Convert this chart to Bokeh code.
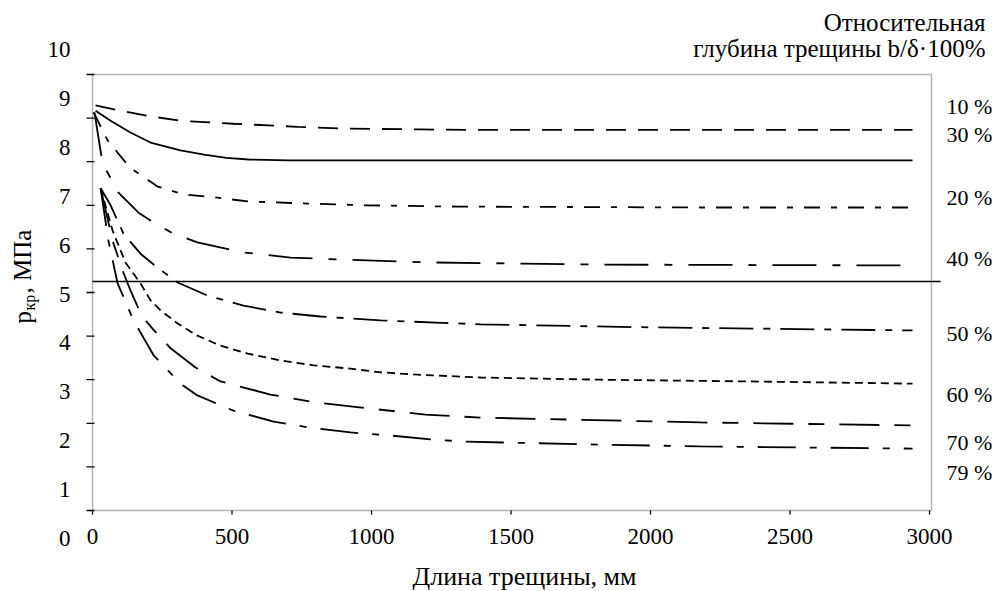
import math
from bokeh.plotting import figure
from bokeh.models import Range1d, Label, BoxAnnotation
from bokeh.core.properties import value
from bokeh.embed import file_html
from bokeh.resources import INLINE

# ---------------- data ----------------
series_names = ["10 %", "30 %", "20 %", "40 %", "50 %", "60 %", "70 %", "79 %"]

x_10 = [11, 100, 208, 315, 505, 735, 900, 1176, 1366, 2000, 2466, 2939]
y_10 = [9.29, 9.17, 9.04, 8.94, 8.87, 8.80, 8.76, 8.74, 8.73, 8.73, 8.73, 8.73]

x_30 = [11, 65, 136, 208, 315, 400, 480, 560, 700, 1500, 2939]
y_30 = [9.17, 8.94, 8.67, 8.44, 8.26, 8.16, 8.09, 8.05, 8.03, 8.03, 8.03]

x_20 = [4, 54, 133, 233, 326, 441, 556, 771, 978, 1312, 2179, 2939]
y_20 = [9.13, 8.49, 7.87, 7.43, 7.25, 7.18, 7.09, 7.04, 7.00, 6.97, 6.95, 6.95]

x_40 = [7, 22, 36, 93, 165, 226, 290, 376, 541, 710, 878, 1211, 1821, 2939]
y_40 = [9.13, 8.53, 7.96, 7.29, 6.83, 6.58, 6.35, 6.15, 5.92, 5.80, 5.76, 5.69, 5.64, 5.62]

x_50 = [29, 65, 111, 172, 233, 305, 412, 541, 674, 817, 1032, 1391, 2000, 2939]
y_50 = [7.39, 7.00, 6.35, 5.89, 5.57, 5.23, 4.93, 4.70, 4.54, 4.45, 4.36, 4.27, 4.20, 4.13]

x_60 = [29, 72, 118, 172, 208, 244, 305, 376, 459, 556, 674, 792, 914, 1032, 1150, 1391, 1821, 2358, 2939]
y_60 = [7.39, 6.42, 5.69, 5.21, 4.82, 4.59, 4.29, 4.01, 3.78, 3.60, 3.44, 3.33, 3.26, 3.17, 3.12, 3.05, 3.00, 2.96, 2.91]

x_70 = [29, 72, 108, 136, 176, 215, 280, 369, 459, 638, 799, 1021, 1193, 1391, 2179, 2939]
y_70 = [7.39, 6.19, 5.50, 5.05, 4.47, 4.17, 3.72, 3.28, 2.96, 2.66, 2.48, 2.32, 2.20, 2.13, 2.02, 1.95]

x_79 = [29, 57, 90, 147, 219, 315, 376, 505, 649, 781, 925, 1068, 1211, 1337, 1821, 2179, 2939]
y_79 = [7.39, 6.19, 5.21, 4.36, 3.56, 2.91, 2.64, 2.29, 2.04, 1.90, 1.79, 1.72, 1.63, 1.58, 1.51, 1.47, 1.42]

critical_level = 5.25
critical_x = [0, 3040]

x_min, x_max = 0, 3007
y_min, y_max = 0, 10
x_ticks = [0, 500, 1000, 1500, 2000, 2500, 3000]
x_tick_labels = ["0", "500", "1000", "1500", "2000", "2500", "3000"]
y_ticks = [0, 1, 2, 3, 4, 5, 6, 7, 8, 9, 10]
y_tick_labels = ["0", "1", "2", "3", "4", "5", "6", "7", "8", "9", "10"]

# ---------------- styles / layout ----------------
dashes = ["20 12", "solid", "16 11 6 11", "44 16 8 16", "34 10 7 10", "8 5", "40 15 16 15", "38 14 7 14"]
FONT = "Liberation Serif"

W, H = 1000, 591
FRAME_L, FRAME_T, FRAME_W, FRAME_H = 92, 74, 839, 436   # box position inside the canvas
sx = FRAME_W / (x_max - x_min)   # px per x unit
sy = FRAME_H / (y_max - y_min)   # px per y unit

def X(cx):   # canvas px -> data x
    return x_min + (cx - FRAME_L) / sx

def Y(cy):   # canvas px (from top) -> data y
    return y_min + (FRAME_T + FRAME_H - cy) / sy

p = figure(width=W, height=H,
           x_range=Range1d(X(0), X(W)), y_range=Range1d(Y(H), Y(0)),
           x_axis_type=None, y_axis_type=None,
           output_backend="svg", toolbar_location=None, min_border=0)
p.grid.visible = False
p.outline_line_color = None
p.background_fill_color = "white"
p.border_fill_color = "white"

# plot box
p.add_layout(BoxAnnotation(left=x_min, right=x_max, bottom=y_min, top=y_max,
                           fill_color=None, fill_alpha=0,
                           line_color="black", line_width=1.5))

# curves
xs = [x_10, x_30, x_20, x_40, x_50, x_60, x_70, x_79]
ys = [y_10, y_30, y_20, y_40, y_50, y_60, y_70, y_79]
for xv, yv, d in zip(xs, ys, dashes):
    p.line(xv, yv, line_color="black", line_width=1.8, line_dash=d)

p.line(critical_x, [critical_level, critical_level], line_color="black", line_width=1.5)

# ticks
p.segment(x0=x_ticks, y0=[y_min] * len(x_ticks), x1=x_ticks,
          y1=[y_min - 4 / sy] * len(x_ticks), line_color="black", line_width=1.3)
p.segment(x0=[x_min - 6 / sx] * len(y_ticks), y0=y_ticks,
          x1=[x_min + 2 / sx] * len(y_ticks), y1=y_ticks, line_color="black", line_width=1.3)

# x tick labels
p.text(x=x_ticks, y=[Y(536)] * len(x_ticks), text=x_tick_labels,
       text_font=value(FONT), text_font_size=value("23px"), text_color="black",
       text_align="center", text_baseline="middle")

# y tick labels (spread wider than the tick marks, as in the source)
p.text(x=[X(70)] * len(y_ticks), y=[Y(538 - 48.9 * i) for i in range(len(y_ticks))],
       text=y_tick_labels,
       text_font=value(FONT), text_font_size=value("23px"), text_color="black",
       text_align="right", text_baseline="middle")

# right-side series labels
right_label_cy = [106, 134, 197, 258, 333, 394, 442, 472]
p.text(x=[X(946)] * len(series_names), y=[Y(c) for c in right_label_cy], text=series_names,
       text_font=value(FONT), text_font_size=value("22px"), text_color="black",
       text_align="left", text_baseline="middle")

# header at top-right
p.add_layout(Label(x=X(985), y=Y(22), text="Относительная",
                   text_font=FONT, text_font_size="25px", text_color="black",
                   text_align="right", text_baseline="middle"))
p.add_layout(Label(x=X(985), y=Y(48), text="глубина трещины b/δ·100%",
                   text_font=FONT, text_font_size="25px", text_color="black",
                   text_align="right", text_baseline="middle"))

# x axis title
p.add_layout(Label(x=X(524), y=Y(576), text="Длина трещины, мм",
                   text_font=FONT, text_font_size="26px", text_color="black",
                   text_align="center", text_baseline="middle"))

# y axis title: p with subscript кр, rotated
ang = math.pi / 2
p.add_layout(Label(x=X(22), y=Y(323), text="p", angle=ang,
                   text_font=FONT, text_font_size="25px", text_color="black",
                   text_align="left", text_baseline="middle"))
p.add_layout(Label(x=X(29), y=Y(310), text="кр", angle=ang,
                   text_font=FONT, text_font_size="16px", text_color="black",
                   text_align="left", text_baseline="middle"))
p.add_layout(Label(x=X(22), y=Y(293), text=", МПа", angle=ang,
                   text_font=FONT, text_font_size="25px", text_color="black",
                   text_align="left", text_baseline="middle"))

open("out.html", "w").write(file_html(p, INLINE))
